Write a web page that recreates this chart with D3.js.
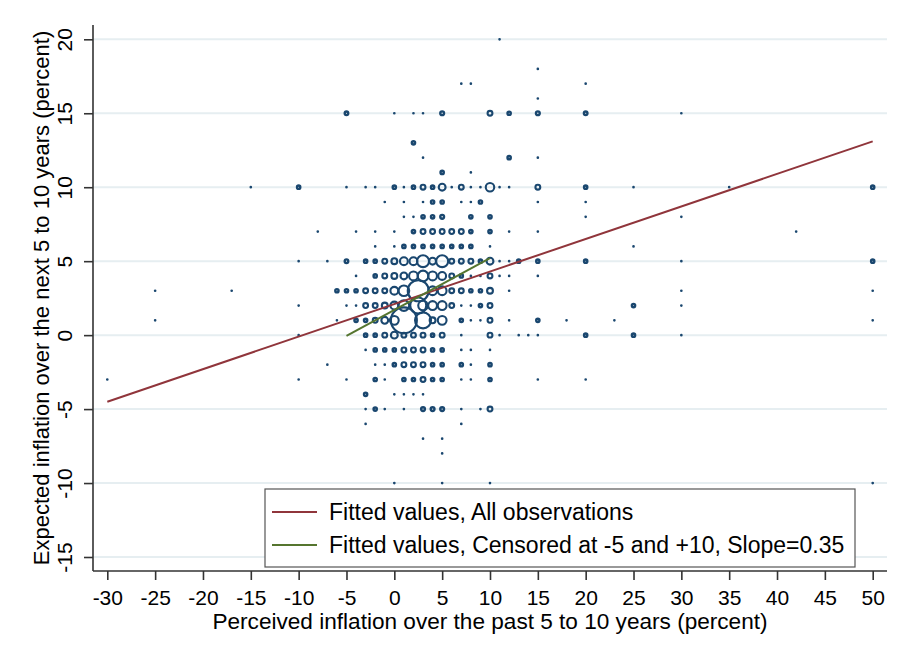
<!DOCTYPE html>
<html>
<head>
<meta charset="utf-8">
<script src="https://cdn.jsdelivr.net/npm/d3@7"></script>
<style>
  html, body { margin: 0; padding: 0; background: #ffffff; }
  svg { display: block; font-family: "Liberation Sans", Arial, sans-serif; }
</style>
</head>
<body>
<svg id="chart" width="911" height="661"></svg>
<script>
// Perceived vs expected inflation, one weighted marker per (perceived, expected) pair.
// Each entry: [perceived past inflation, expected future inflation, number of respondents]
const observations = [
  // expected 20 .. 11
  [11, 20, 1],
  [15, 18, 1],
  [7, 17, 1], [8, 17, 1], [20, 17, 1],
  [15, 16, 1],
  [-5, 15, 7], [0, 15, 1], [2, 15, 1], [3, 15, 1], [5, 15, 8], [10, 15, 13], [12, 15, 6], [15, 15, 8], [20, 15, 7], [30, 15, 1],
  [2, 13, 6],
  [3, 12, 1], [12, 12, 6], [15, 12, 1],
  [5, 11, 6], [8, 11, 1],
  // expected 10
  [-15, 10, 1], [-10, 10, 6], [-5, 10, 1], [-3, 10, 1], [-2, 10, 1], [0, 10, 6], [1, 10, 1], [2, 10, 6],
  [3, 10, 13], [4, 10, 6], [5, 10, 26], [6, 10, 1], [7, 10, 13], [8, 10, 1], [9, 10, 1], [10, 10, 40],
  [11, 10, 1], [12, 10, 1], [15, 10, 13], [20, 10, 6], [25, 10, 1], [35, 10, 1], [50, 10, 6],
  // expected 9 .. 6
  [-1, 9, 1], [1, 9, 1], [3, 9, 1], [4, 9, 6], [5, 9, 6], [7, 9, 1], [8, 9, 1], [9, 9, 6], [15, 9, 1], [20, 9, 1],
  [1, 8, 1], [2, 8, 1], [3, 8, 6], [4, 8, 6], [5, 8, 8], [8, 8, 6], [10, 8, 6], [20, 8, 1], [30, 8, 1],
  [-8, 7, 1], [-4, 7, 1], [-2, 7, 1], [0, 7, 1], [2, 7, 6], [3, 7, 13], [4, 7, 13], [5, 7, 13], [6, 7, 13],
  [7, 7, 13], [8, 7, 6], [10, 7, 6], [12, 7, 1], [15, 7, 1], [42, 7, 1],
  [-2, 6, 1], [0, 6, 1], [1, 6, 6], [2, 6, 6], [3, 6, 6], [4, 6, 6], [5, 6, 6], [6, 6, 6], [7, 6, 6],
  [8, 6, 6], [10, 6, 1], [25, 6, 1],
  // expected 5 .. 3
  [-10, 5, 1], [-7, 5, 1], [-5, 5, 7], [-3, 5, 6], [-2, 5, 6], [-1, 5, 13], [0, 5, 19], [1, 5, 34], [2, 5, 34],
  [3, 5, 80], [4, 5, 26], [5, 5, 80], [6, 5, 13], [7, 5, 13], [8, 5, 13], [9, 5, 6], [10, 5, 26], [11, 5, 1],
  [12, 5, 1], [13, 5, 6], [15, 5, 6], [20, 5, 6], [30, 5, 1], [50, 5, 6],
  [-4, 4, 1], [-2, 4, 6], [-1, 4, 13], [0, 4, 19], [1, 4, 26], [2, 4, 43], [3, 4, 63], [4, 4, 43], [5, 4, 34],
  [6, 4, 13], [7, 4, 6], [8, 4, 1], [9, 4, 1], [10, 4, 13], [11, 4, 1], [12, 4, 1], [15, 4, 1],
  [-25, 3, 1], [-17, 3, 1], [-6, 3, 6], [-5, 3, 6], [-4, 3, 6], [-3, 3, 13], [-2, 3, 13], [-1, 3, 13], [0, 3, 34],
  [1, 3, 63], [2.5, 3, 245], [4, 3, 43], [5, 3, 43], [6, 3, 13], [7, 3, 13], [8, 3, 6], [9, 3, 6], [10, 3, 19],
  [12, 3, 1], [30, 3, 1], [50, 3, 1],
  // expected 2 .. 0
  [-10, 2, 1], [-5, 2, 1], [-4, 2, 1], [-3, 2, 13], [-2, 2, 13], [-1, 2, 19], [0, 2, 34], [1, 2, 63], [2.5, 2, 143],
  [3, 2, 51], [4, 2, 43], [5, 2, 43], [6, 2, 13], [7, 2, 1], [8, 2, 1], [9, 2, 6], [10, 2, 13], [25, 2, 6], [30, 2, 1],
  [-25, 1, 1], [-6, 1, 1], [-4, 1, 6], [-3, 1, 6], [-2, 1, 13], [-1, 1, 26], [0, 1, 43], [1, 1, 376], [3, 1, 143],
  [4, 1, 19], [5, 1, 43], [7, 1, 6], [8, 1, 1], [9, 1, 1], [10, 1, 13], [12, 1, 1], [15, 1, 6], [18, 1, 1],
  [23, 1, 1], [50, 1, 1],
  [-10, 0, 1], [-3, 0, 6], [-2, 0, 6], [-1, 0, 13], [0, 0, 26], [1, 0, 13], [2, 0, 13], [3, 0, 13], [4, 0, 6],
  [5, 0, 13], [7, 0, 1], [10, 0, 13], [11, 0, 1], [13, 0, 1], [14, 0, 1], [15, 0, 1], [20, 0, 6], [25, 0, 6], [30, 0, 1],
  // expected -1 .. -10
  [-3, -1, 1], [-2, -1, 6], [-1, -1, 6], [0, -1, 6], [1, -1, 13], [2, -1, 13], [3, -1, 13], [4, -1, 6], [5, -1, 6],
  [7, -1, 1], [8, -1, 1], [10, -1, 1],
  [-7, -2, 1], [-2, -2, 1], [-1, -2, 1], [0, -2, 6], [1, -2, 13], [2, -2, 13], [3, -2, 13], [4, -2, 6], [5, -2, 6],
  [7, -2, 6], [8, -2, 1], [10, -2, 6],
  [-30, -3, 1], [-10, -3, 1], [-5, -3, 1], [-2, -3, 6], [-1, -3, 1], [1, -3, 6], [2, -3, 6], [3, -3, 13], [4, -3, 6],
  [5, -3, 6], [7, -3, 1], [8, -3, 1], [10, -3, 6], [15, -3, 1], [20, -3, 1],
  [-3, -4, 6], [0, -4, 1], [1, -4, 1], [2, -4, 1], [3, -4, 1],
  [-3, -5, 1], [-2, -5, 6], [-1, -5, 1], [1, -5, 1], [3, -5, 8], [4, -5, 8], [5, -5, 8], [7, -5, 1], [9, -5, 1], [10, -5, 13],
  [-3, -6, 1], [7, -6, 1],
  [3, -7, 1], [5, -7, 1],
  [5, -8, 1],
  [0, -10, 1], [5, -10, 1], [10, -10, 1], [50, -10, 1]
];

// Fitted lines: all observations, and the censored sample (-5 to +10)
const fitAllX = [-30, 50];
const fitAllIntercept = 2.10;
const fitAllSlope = 0.22;
const fitCensoredX = [-5, 10];
const fitCensoredIntercept = 1.70;
const fitCensoredSlope = 0.35;

const xTicks = [-30, -25, -20, -15, -10, -5, 0, 5, 10, 15, 20, 25, 30, 35, 40, 45, 50];
const yTicks = [-15, -10, -5, 0, 5, 10, 15, 20];

const legendLabels = [
  "Fitted values, All observations",
  "Fitted values, Censored at -5 and +10, Slope=0.35"
];

const xTitle = "Perceived inflation over the past 5 to 10 years (percent)";
const yTitle = "Expected inflation over the next 5 to 10 years (percent)";

// ---- drawing ----
const svg = d3.select("#chart");
const colors = { marker: "#1a476f", fitAll: "#90353b", fitCens: "#55752f", grid: "#e6eef1", axis: "#333333" };

const plot = { left: 93, right: 887, top: 25, bottom: 571 };
const x = d3.scaleLinear().domain([-30, 50]).range([107.3, 872.7]);
const y = d3.scaleLinear().domain([-15, 20]).range([557, 39.3]);
const r = d3.scaleSqrt().domain([0, 1]).range([0, 0.67]);
const tickText = d => String(d);   // plain hyphen-minus for negatives

// outline width: small markers close up into solid dots, larger ones stay rings
const outline = rad => rad < 1.9 ? Math.min(2 * rad, 2.4) : 2.1;

// horizontal grid lines
svg.append("g").selectAll("line").data(yTicks).join("line")
  .attr("x1", plot.left).attr("x2", plot.right)
  .attr("y1", d => y(d)).attr("y2", d => y(d))
  .attr("stroke", colors.grid).attr("stroke-width", 2);

// y axis
const yAxis = svg.append("g").attr("transform", `translate(${plot.left},0)`)
  .call(d3.axisLeft(y).tickValues(yTicks).tickFormat(tickText).tickSize(9).tickSizeOuter(0).tickPadding(0));
yAxis.select(".domain").attr("d", `M0,${plot.top}V${plot.bottom}`);
yAxis.selectAll(".domain, .tick line").attr("stroke", colors.axis).attr("stroke-width", 1.6);
yAxis.selectAll(".tick text")
  .attr("x", 0).attr("dy", 0)
  .attr("transform", "translate(-21,0) rotate(-90)")
  .attr("text-anchor", "middle")
  .attr("font-size", 21).attr("fill", "#000");

// x axis
const xAxis = svg.append("g").attr("transform", `translate(0,${plot.bottom})`)
  .call(d3.axisBottom(x).tickValues(xTicks).tickFormat(tickText).tickSize(9).tickSizeOuter(0).tickPadding(0));
xAxis.select(".domain").attr("d", `M${plot.left},0H${plot.right}`);
xAxis.selectAll(".domain, .tick line").attr("stroke", colors.axis).attr("stroke-width", 1.6);
xAxis.selectAll(".tick text")
  .attr("y", 34).attr("dy", 0)
  .attr("font-size", 21).attr("fill", "#000");

// weighted hollow markers
svg.append("g").selectAll("circle").data(observations).join("circle")
  .attr("cx", d => x(d[0])).attr("cy", d => y(d[1]))
  .attr("r", d => r(d[2]))
  .attr("fill", "none")
  .attr("stroke", colors.marker)
  .attr("stroke-width", d => outline(r(d[2])));

// fitted lines
const line = d3.line().x(d => x(d[0])).y(d => y(d[1]));
svg.append("path")
  .attr("d", line(fitAllX.map(v => [v, fitAllIntercept + fitAllSlope * v])))
  .attr("fill", "none").attr("stroke", colors.fitAll).attr("stroke-width", 2);
svg.append("path")
  .attr("d", line(fitCensoredX.map(v => [v, fitCensoredIntercept + fitCensoredSlope * v])))
  .attr("fill", "none").attr("stroke", colors.fitCens).attr("stroke-width", 2);

// legend
const lg = svg.append("g").attr("transform", "translate(265,489)");
lg.append("rect").attr("width", 590).attr("height", 78)
  .attr("fill", "#fff").attr("stroke", "#555").attr("stroke-width", 1.2);
[colors.fitAll, colors.fitCens].forEach((c, i) => {
  const yy = 23 + i * 33;
  lg.append("line").attr("x1", 7).attr("x2", 52).attr("y1", yy).attr("y2", yy)
    .attr("stroke", c).attr("stroke-width", 2);
  lg.append("text").attr("x", 64).attr("y", yy + 8)
    .attr("font-size", 23).attr("fill", "#000").text(legendLabels[i]);
});

// axis titles
svg.append("text").attr("x", (plot.left + plot.right) / 2).attr("y", 629)
  .attr("text-anchor", "middle").attr("font-size", 22.6).text(xTitle);
svg.append("text")
  .attr("transform", `translate(49,${(plot.top + plot.bottom) / 2}) rotate(-90)`)
  .attr("text-anchor", "middle").attr("font-size", 22).text(yTitle);
</script>
</body>
</html>
